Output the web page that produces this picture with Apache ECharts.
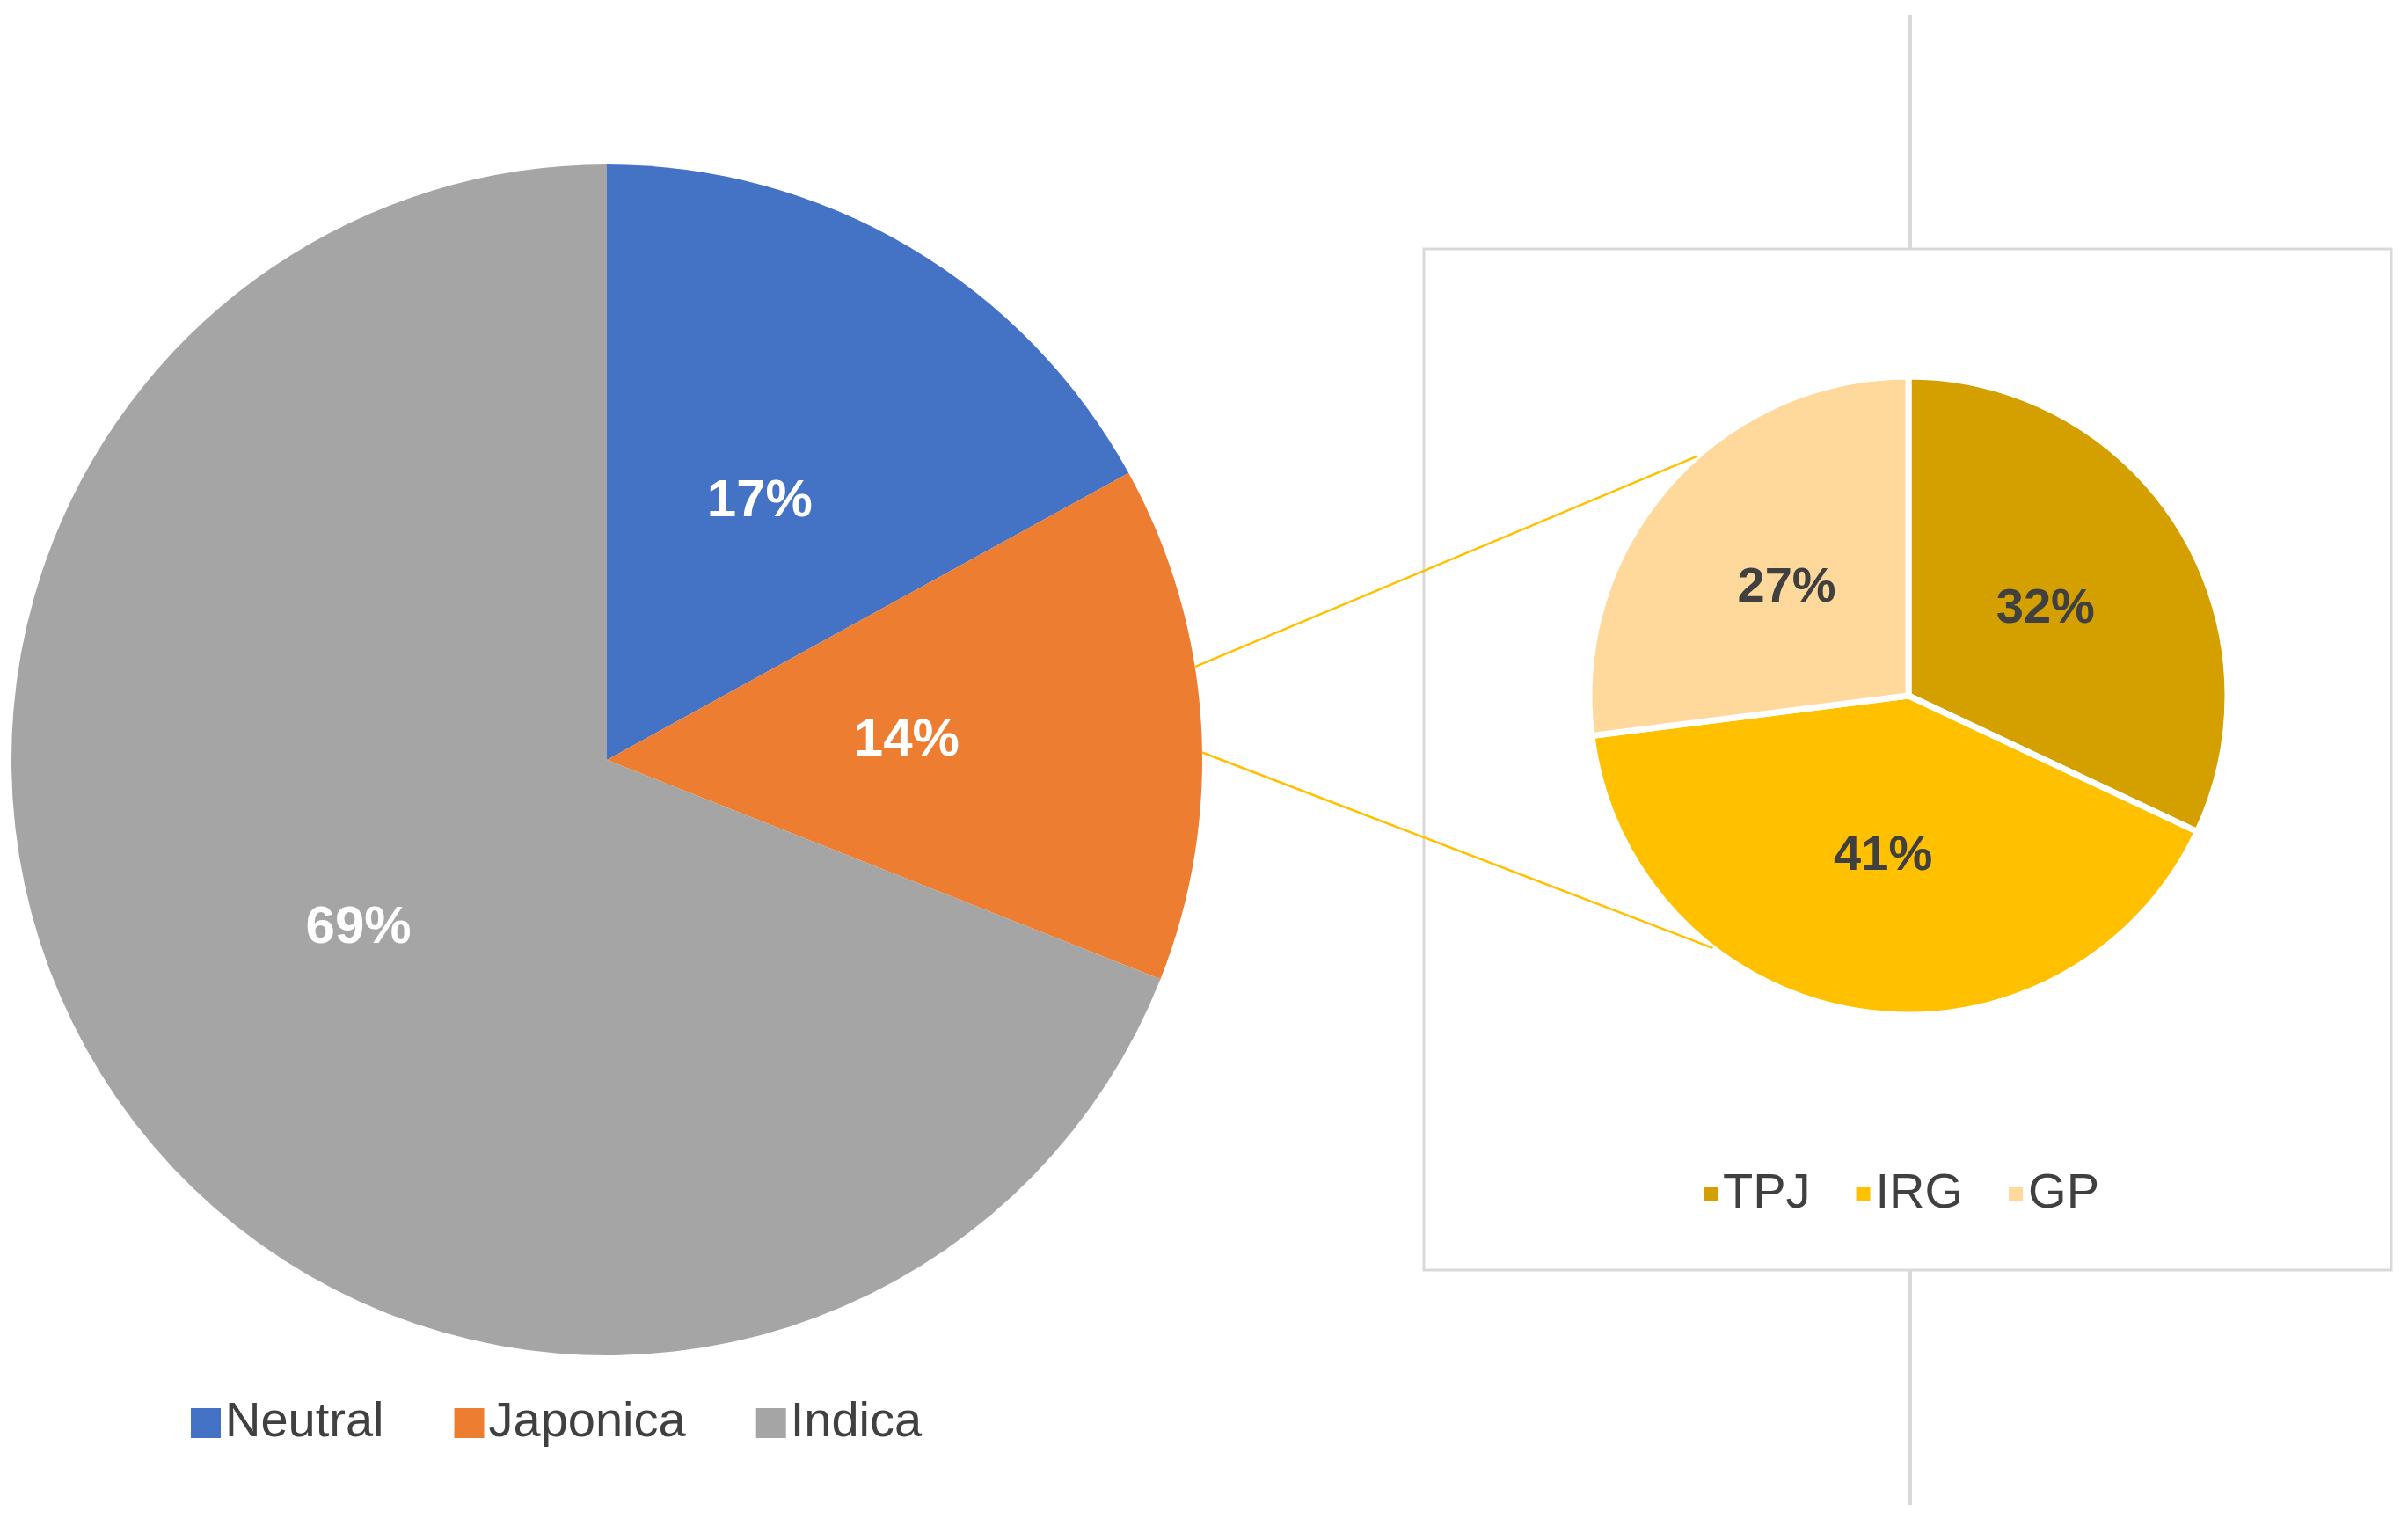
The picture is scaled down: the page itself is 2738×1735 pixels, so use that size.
<!DOCTYPE html>
<html>
<head>
<meta charset="utf-8">
<style>
html,body{margin:0;padding:0;background:#fff;}
#chart{width:2738px;height:1735px;}
</style>
<script src="https://cdn.jsdelivr.net/npm/echarts@6/dist/echarts.min.js"></script>
</head>
<body>
<div id="chart"></div>
<script>
// main pie
var mainNames = ['Neutral', 'Japonica', 'Indica'];
var mainValues = [17, 14, 69];
var mainColors = ['#4472C4', '#ED7D31', '#A5A5A5'];
// breakdown of Japonica
var subNames = ['TPJ', 'IRG', 'GP'];
var subValues = [32, 41, 27];
var subColors = ['#D4A000', '#FFC000', '#FFD89B'];

var mainC = [690, 864], mainR = 677;
var subC = [2170, 791], subR = 363;

var chart = echarts.init(document.getElementById('chart'));

// connector lines from the Japonica slice edge to the sub pie
function pt(c, r, pct) {
    var a = pct / 100 * 2 * Math.PI;
    return [c[0] + r * Math.sin(a), c[1] - r * Math.cos(a)];
}
var jStart = mainValues[0] + 5.5, jEnd = mainValues[0] + 7.8;
var p1 = pt(mainC, mainR, jStart), p2 = pt(mainC, mainR, jEnd);
var q1 = pt(subC, subR, 88.5), q2 = pt(subC, subR, 60.5);

var mainData = mainNames.map(function (n, i) {
    return { name: n, value: mainValues[i], itemStyle: { color: mainColors[i] } };
});
var subData = subNames.map(function (n, i) {
    return { name: n, value: subValues[i], itemStyle: { color: subColors[i] } };
});

chart.setOption({
    animation: false,
    graphic: [
        { type: 'line', shape: { x1: 2172, y1: 17, x2: 2172, y2: 1711 },
          style: { stroke: '#d9d9d9', lineWidth: 4 }, z: 0 },
        { type: 'rect', shape: { x: 1619, y: 283, width: 1100, height: 1161 },
          style: { fill: '#fff', stroke: '#d9d9d9', lineWidth: 3 }, z: 1 },
        { type: 'line', shape: { x1: p1[0], y1: p1[1], x2: q1[0], y2: q1[1] },
          style: { stroke: '#FFC000', lineWidth: 2.5 }, z: 5 },
        { type: 'line', shape: { x1: p2[0], y1: p2[1], x2: q2[0], y2: q2[1] },
          style: { stroke: '#FFC000', lineWidth: 2.5 }, z: 5 }
    ],
    legend: [
        { data: mainNames, left: 212, top: 1585, itemWidth: 34, itemHeight: 34, itemGap: 80,
          icon: 'rect', textStyle: { fontSize: 56, color: '#404040', fontFamily: 'Liberation Sans, Arial' } },
        { data: subNames, left: 1930, top: 1325, itemWidth: 18, itemHeight: 18, itemGap: 50,
          icon: 'rect', textStyle: { fontSize: 56, color: '#404040', fontFamily: 'Liberation Sans, Arial' } }
    ],
    series: [
        {
            type: 'pie', center: mainC, radius: mainR, startAngle: 90, clockwise: true,
            data: mainData, z: 3,
            itemStyle: { borderWidth: 0 },
            label: { position: 'inner', formatter: '{c}%', color: '#fff', fontWeight: 'bold',
                     fontSize: 60, fontFamily: 'Liberation Sans, Arial' },
            labelLine: { show: false }
        },
        {
            type: 'pie', center: subC, radius: subR, startAngle: 90, clockwise: true,
            data: subData, z: 3,
            itemStyle: { borderColor: '#fff', borderWidth: 7 },
            label: { position: 'inner', formatter: '{c}%', color: '#404040', fontWeight: 'bold',
                     fontSize: 56, fontFamily: 'Liberation Sans, Arial' },
            labelLine: { show: false }
        }
    ]
});
</script>
</body>
</html>
